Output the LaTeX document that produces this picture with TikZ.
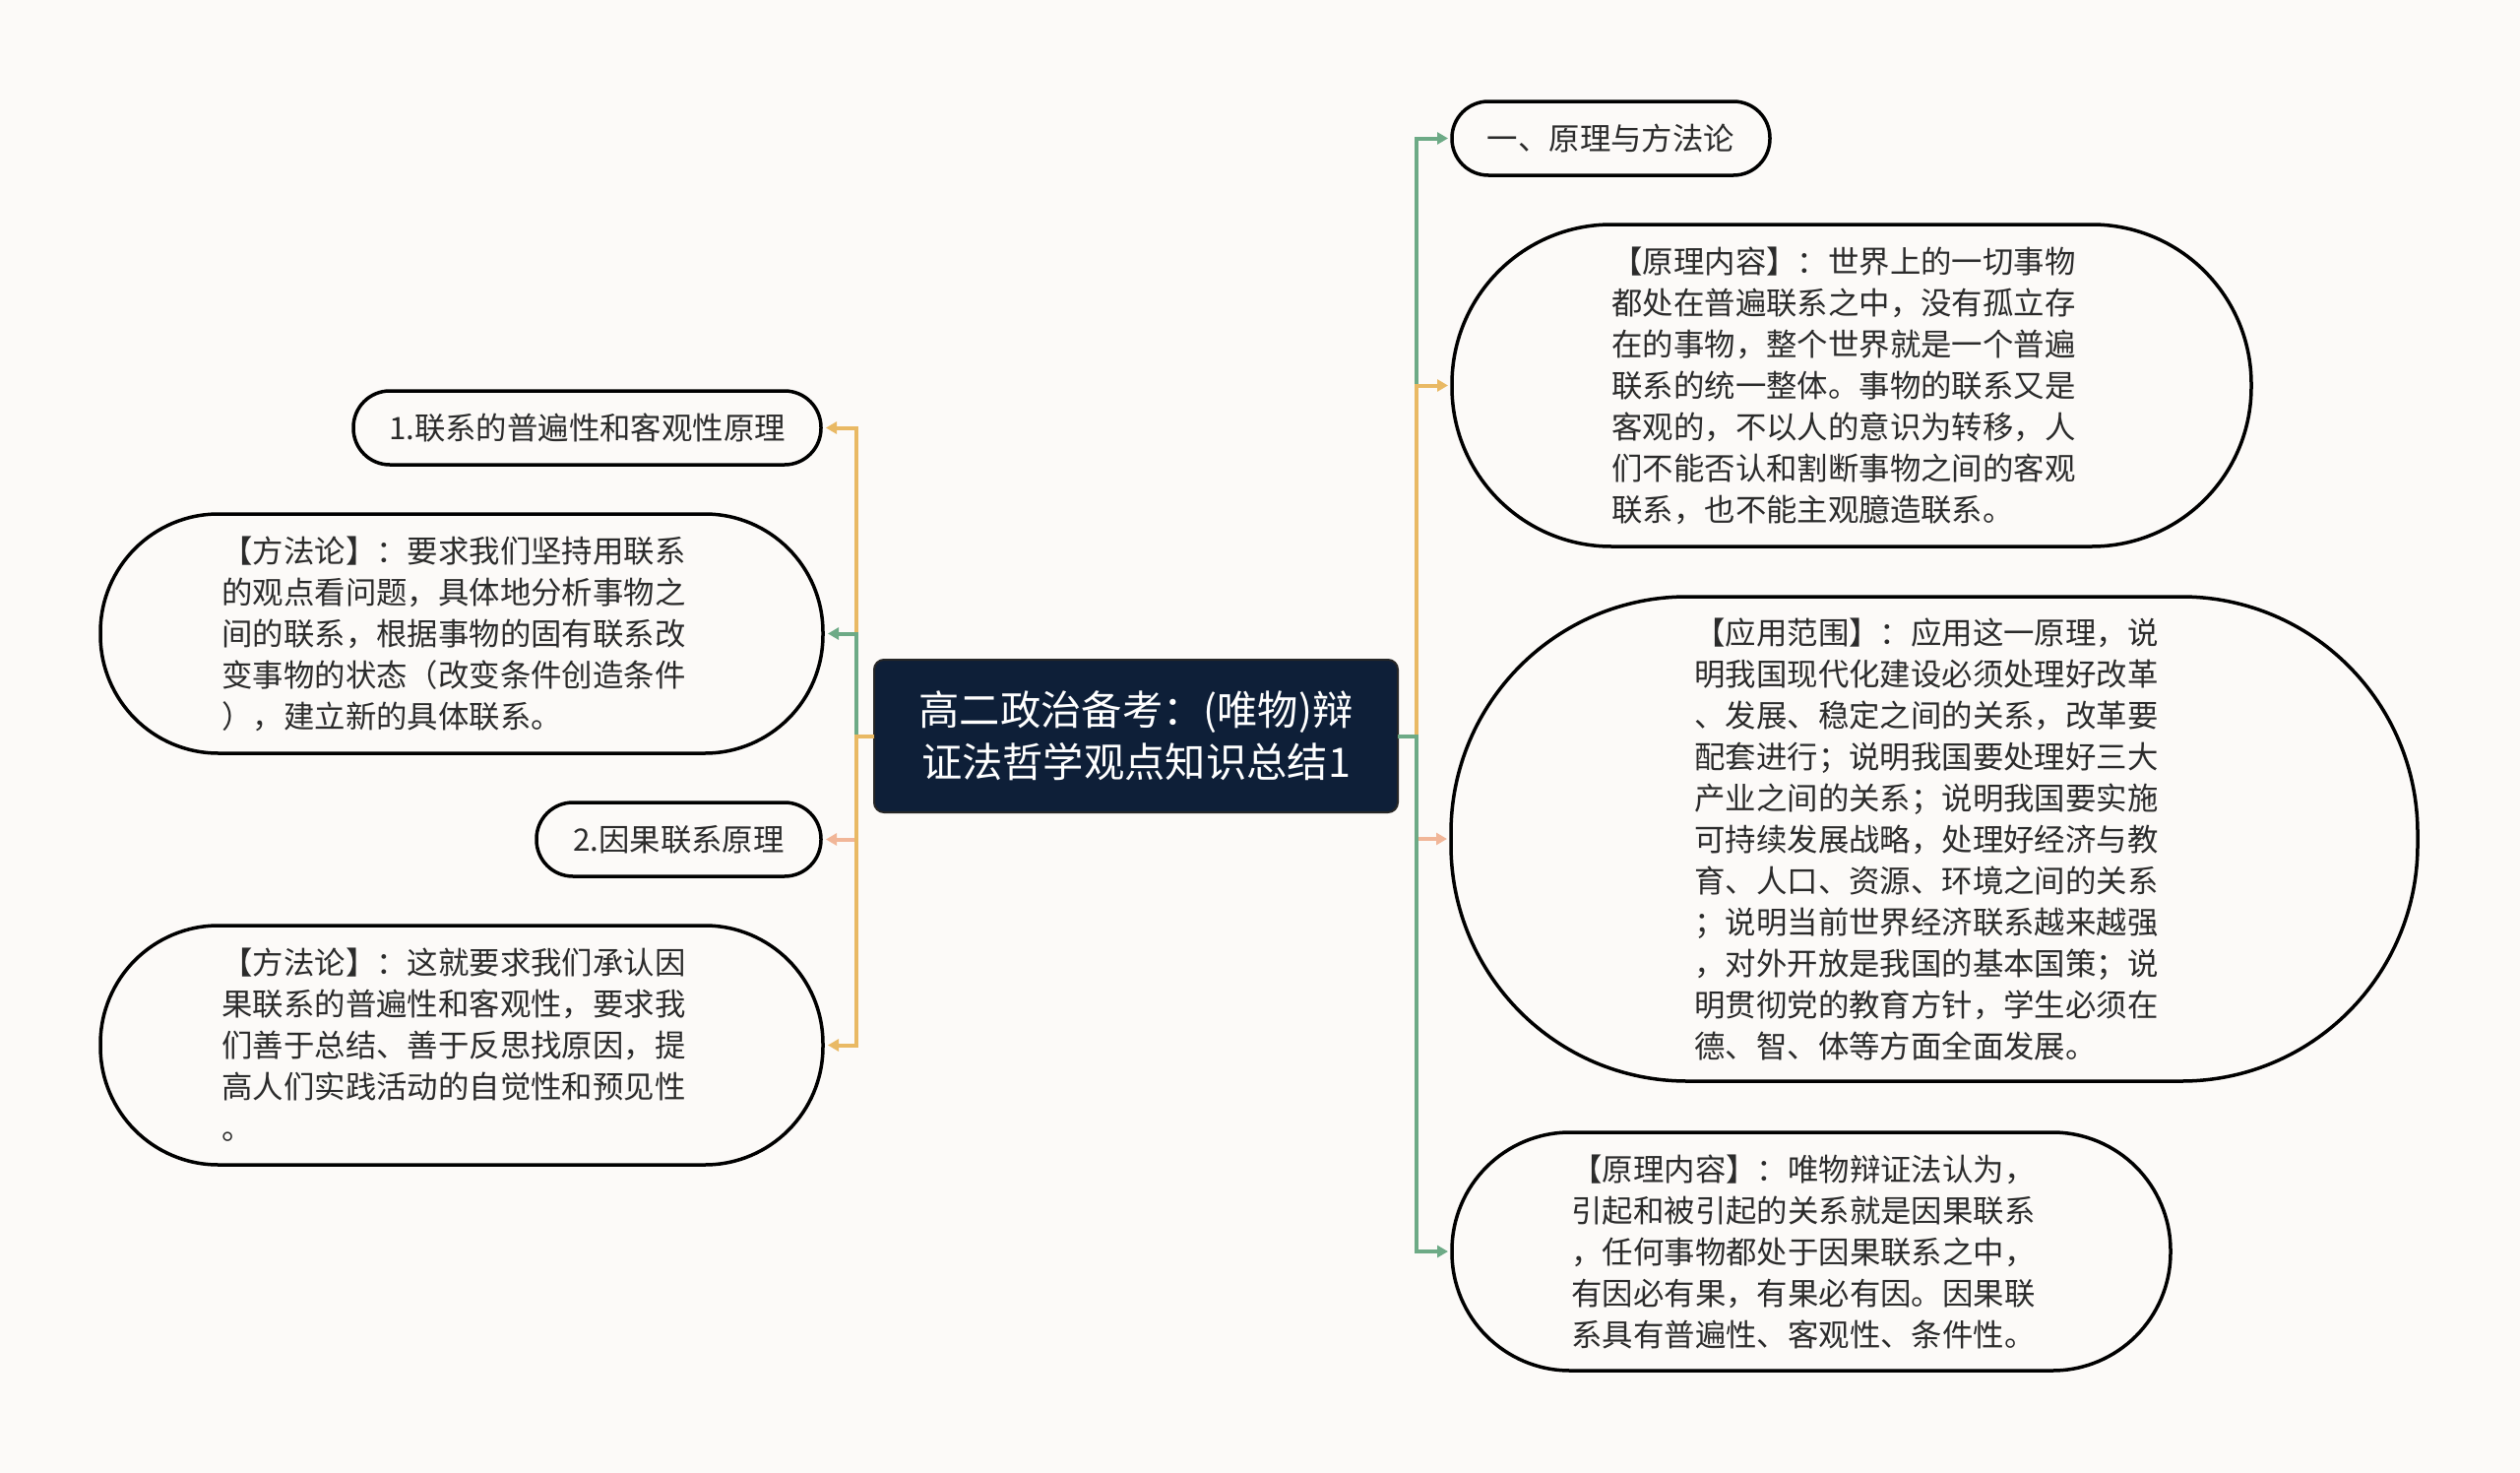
\documentclass[tikz,border=0pt]{standalone}
\usepackage{fontspec}
\newfontfamily\cjk{Noto Sans CJK SC}
\usetikzlibrary{arrows.meta}
\definecolor{bg}{HTML}{FCFAF8}
\definecolor{navy}{HTML}{0E1F38}
\definecolor{cG}{HTML}{6DAA86}
\definecolor{cO}{HTML}{E9B964}
\definecolor{cS}{HTML}{F1B698}
\definecolor{txt}{HTML}{2B2B2B}
\tikzset{
  leaf/.style={draw=black, line width=3.5pt, fill=bg, inner sep=0pt, outer sep=0pt,
    text=txt, align=left, font=\cjk\fontsize{31.4}{42}\selectfont},
  para/.style={leaf, text width=487pt},
  rootbox/.style={draw=black!85, line width=2pt, fill=navy, inner sep=0pt, outer sep=0pt,
    text=white, align=center, rounded corners=10pt, font=\cjk\fontsize{41.3}{53}\selectfont},
  conn/.style={line width=4pt, -{Triangle[length=11pt,width=12pt]}},
}
\begin{document}
\begin{tikzpicture}[x=1pt,y=-1pt]
\useasboundingbox (0,0) rectangle (2560,1496);
\fill[bg] (0,0) rectangle (2560,1496);

\node[rootbox, minimum width=532pt, minimum height=155pt] (C) at (1154,747.5)
  {高二政治备考：(唯物)辩\\证法哲学观点知识总结1};

% left side
\node[leaf, minimum width=475pt, minimum height=75pt, rounded corners=37pt] (L1) at (596.5,434.5)
  {1.联系的普遍性和客观性原理};
\node[para, minimum width=734pt, minimum height=243pt, rounded corners=120pt] (L2) at (469,643.5)
  {【方法论】：要求我们坚持用联系\\的观点看问题，具体地分析事物之\\间的联系，根据事物的固有联系改\\变事物的状态（改变条件创造条件\\），建立新的具体联系。};
\node[leaf, minimum width=289pt, minimum height=75pt, rounded corners=37pt] (L3) at (689.5,852.5)
  {2.因果联系原理};
\node[para, minimum width=734pt, minimum height=243pt, rounded corners=120pt] (L4) at (469,1061.5)
  {【方法论】：这就要求我们承认因\\果联系的普遍性和客观性，要求我\\们善于总结、善于反思找原因，提\\高人们实践活动的自觉性和预见性\\。};

% right side
\node[leaf, minimum width=323pt, minimum height=75pt, rounded corners=37pt] (R1) at (1636.5,140.5)
  {一、原理与方法论};
\node[para, minimum width=812pt, minimum height=327pt, rounded corners=162pt] (R2) at (1881,391.5)
  {【原理内容】：世界上的一切事物\\都处在普遍联系之中，没有孤立存\\在的事物，整个世界就是一个普遍\\联系的统一整体。事物的联系又是\\客观的，不以人的意识为转移，人\\们不能否认和割断事物之间的客观\\联系，也不能主观臆造联系。};
\node[para, minimum width=982pt, minimum height=492pt, rounded corners=240pt] (R3) at (1965,852)
  {【应用范围】：应用这一原理，说\\明我国现代化建设必须处理好改革\\、发展、稳定之间的关系，改革要\\配套进行；说明我国要处理好三大\\产业之间的关系；说明我国要实施\\可持续发展战略，处理好经济与教\\育、人口、资源、环境之间的关系\\；说明当前世界经济联系越来越强\\，对外开放是我国的基本国策；说\\明贯彻党的教育方针，学生必须在\\德、智、体等方面全面发展。};
\node[para, minimum width=730pt, minimum height=242pt, rounded corners=120pt] (R4) at (1840,1271)
  {【原理内容】：唯物辩证法认为，\\引起和被引起的关系就是因果联系\\，任何事物都处于因果联系之中，\\有因必有果，有果必有因。因果联\\系具有普遍性、客观性、条件性。};

% connectors left
\draw[conn, cO] (C.west) -- ++(-18,0) |- ([xshift=5pt]L1.east);
\draw[conn, cG] (C.west) -- ++(-18,0) |- ([xshift=5pt]L2.east);
\draw[conn, cS] (C.west) -- ++(-18,0) |- ([xshift=5pt]L3.east);
\draw[conn, cO] (C.west) -- ++(-18,0) |- ([xshift=5pt]L4.east);
% connectors right
\draw[conn, cG] (C.east) -- ++(19,0) |- ([xshift=-4pt]R1.west);
\draw[conn, cO] (C.east) -- ++(19,0) |- ([xshift=-4pt]R2.west);
\draw[conn, cS] (C.east) -- ++(19,0) |- ([xshift=-4pt]R3.west);
\draw[conn, cG] (C.east) -- ++(19,0) |- ([xshift=-4pt]R4.west);
\end{tikzpicture}
\end{document}
